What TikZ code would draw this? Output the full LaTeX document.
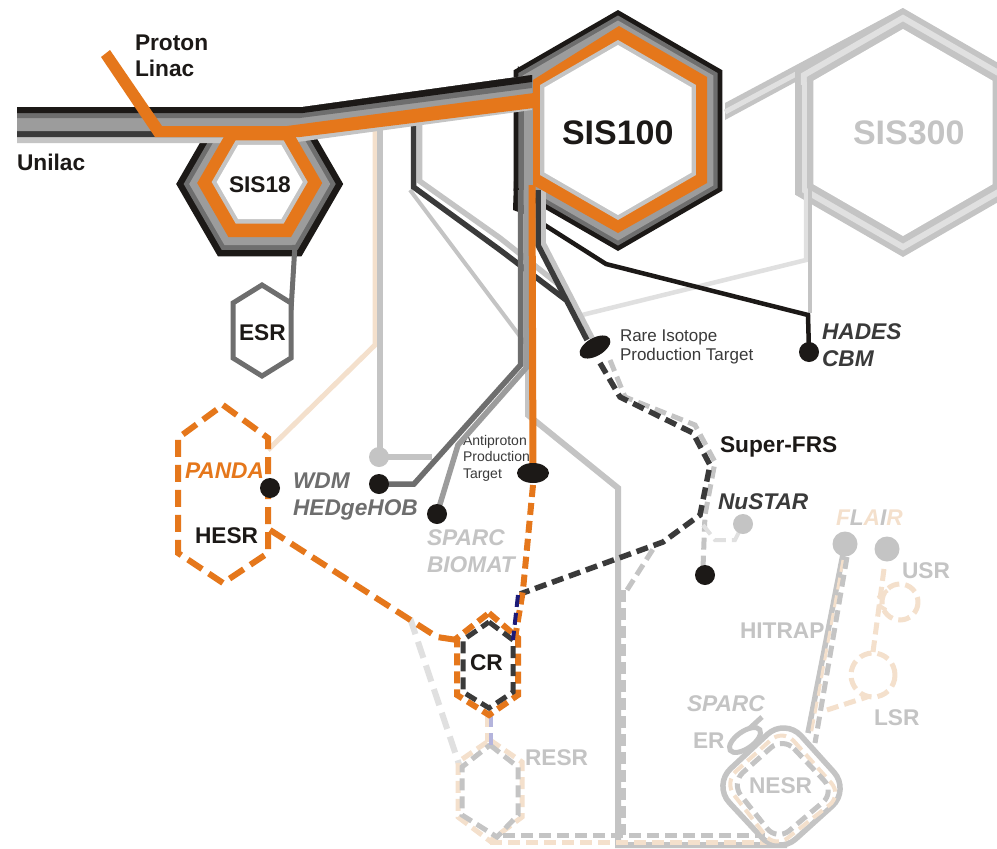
\documentclass[tikz,border=0pt]{standalone}
\usepackage{fontspec}
\setmainfont{Liberation Sans}
\usetikzlibrary{calc}
\definecolor{cblack}{HTML}{1C1917}
\definecolor{cdark}{HTML}{3A3A3A}
\definecolor{cmid}{HTML}{6E6E6E}
\definecolor{cgray}{HTML}{9C9C9C}
\definecolor{clight}{HTML}{C4C4C4}
\definecolor{cpale}{HTML}{E0E0E0}
\definecolor{corange}{HTML}{E5771B}
\definecolor{cpeach}{HTML}{F4E0CC}
\definecolor{cnavy}{HTML}{1C1A78}
\definecolor{clav}{HTML}{B4B4DC}
\definecolor{ctext}{HTML}{1C1917}
\newcommand{\phex}[3]{({#1},{#2-#3}) -- ({#1+.866*#3},{#2-.5*#3}) -- ({#1+.866*#3},{#2+.5*#3}) -- ({#1},{#2+#3}) -- ({#1-.866*#3},{#2+.5*#3}) -- ({#1-.866*#3},{#2-.5*#3}) -- cycle}
\newcommand{\fhex}[3]{({#1-#3},{#2}) -- ({#1-.5*#3},{#2-.866*#3}) -- ({#1+.5*#3},{#2-.866*#3}) -- ({#1+#3},{#2}) -- ({#1+.5*#3},{#2+.866*#3}) -- ({#1-.5*#3},{#2+.866*#3}) -- cycle}
\tikzset{
  x=1pt,y=-1pt,
  solidline/.style={line width=#1,line join=miter,miter limit=6},
  dashA/.style={line width=#1,dash pattern=on 17pt off 8pt},
  dashB/.style={line width=#1,dash pattern=on 12pt off 6pt},
  lab/.style={anchor=base west,inner sep=0pt,outer sep=0pt,font=\fontsize{22.7}{26}\selectfont\bfseries,text=ctext},
  ilab/.style={lab,font=\fontsize{22.7}{26}\selectfont\bfseries\itshape},
  small/.style={anchor=base west,inner sep=0pt,outer sep=0pt,text=cdark},
  dot/.style={circle,fill=#1,draw=none,inner sep=0pt,minimum size=20pt},
  bigdot/.style={circle,fill=#1,draw=none,inner sep=0pt,minimum size=25pt},
}
\begin{document}
\begin{tikzpicture}
\useasboundingbox (0,0) rectangle (997,849);
\clip (0,0) rectangle (997,849);
\fill[white] (0,0) rectangle (997,849);
% anchor coordinates
\coordinate (pDot) at (270,488);
\coordinate (wDot) at (379,484);
\coordinate (lDot) at (379,457);
\coordinate (sDot) at (437,514);
\coordinate (cDot) at (809,352);
\coordinate (rT) at (595,347);
\coordinate (aT) at (533,473);
\coordinate (nDot) at (743,524);
\coordinate (bDot) at (705,575);
\coordinate (fDot) at (845,544);
\coordinate (gDot) at (887,549);
% SIS300
\fill[clight] (725,103) -- (903,8) -- (903,24) -- (725,120) -- cycle;
\draw[solidline=5pt,cpale] (725,112) -- (903,17);
\fill[clight] \phex{903}{132.5}{124.5};
\fill[cpale] \phex{903}{132.5}{118};
\fill[clight] \phex{903}{132.5}{111};
\fill[white] \phex{903}{132.5}{103.5};
% pale and gray links around SIS300
\draw[solidline=4.5pt,cpale] (582,315) -- (806,260) -- (806,190);
\draw[solidline=4.5pt,clight] (810,82) -- (810,313);
\draw[solidline=4.5pt,cpale] (805,82) -- (805,190);
\draw[solidline=4.5pt,clight] (800,85) -- (800,192);
% peach and light lines from the beam
\draw[solidline=5pt,cpeach] (375,125) -- (375,345) -- (268,450);
\draw[solidline=6pt,clight] (380,125) -- (380,457) -- (432,457);
\draw[solidline=4pt,clight] (410,190) -- (525,343);
\draw[solidline=5.5pt,clight] (419.5,120) -- (419.5,181) -- (500,238) -- (558,284);
\draw[solidline=5.5pt,cdark] (413.5,120) -- (413.5,187) -- (500,250) -- (566,300);
% text under lines
\node[small,font=\fontsize{14}{16}\selectfont] (anti1) at (463,445) {Antiproton};
\node[small,font=\fontsize{14}{16}\selectfont] (anti2) at (463,461) {Production};
\node[small,font=\fontsize{14}{16}\selectfont] (anti3) at (463,478) {Target};
% SIS100 outer
\fill[cblack] (518,66) -- (513,210) -- (535,218) -- (535,90) -- cycle;
\fill[cblack] \phex{618}{130.5}{120.5};
\fill[cmid] \phex{618}{130.5}{115};
\fill[cgray] \phex{618}{130.5}{110};
\fill[cmid] (519,108) rectangle (524,205);
\fill[cgray] (524,108) rectangle (530,205);
% lines from SIS100 down
\draw[solidline=6pt,clight] (528,190) -- (528,415) -- (618,488) -- (618,845) -- (787,845);
\draw[solidline=4.5pt,cblack] (543,224) -- (606,264) -- (808,315) -- (cDot);
\draw[solidline=5.5pt,clight] (543,190) -- (543,243) -- (592,338);
\draw[solidline=5.5pt,cdark] (538,190) -- (538,245) -- (587,340);
\draw[solidline=5.5pt,cgray] (526,190) -- (526,368) -- (458,445) -- (sDot);
\draw[solidline=5.5pt,cmid] (520.5,190) -- (520.5,365) -- (414,484) -- (wDot);
% SIS18 outer
\fill[cblack] \fhex{259.7}{184}{83.5};
\fill[cmid] \fhex{259.7}{184}{76};
\fill[cgray] \fhex{259.7}{184}{70.5};
% beam bundle
\fill[clight] (17,107) -- (303,107) -- (532,75) -- (532,110) -- (290,143) -- (17,143) -- cycle;
\fill[cdark] (17,107) -- (303,107) -- (532,75) -- (532,105) -- (290,137) -- (17,137) -- cycle;
\fill[cgray] (17,107) -- (303,107) -- (532,75) -- (532,100) -- (290,131) -- (17,131) -- cycle;
\fill[cmid] (17,107) -- (303,107) -- (532,75) -- (532,88) -- (300,118) -- (17,118) -- cycle;
\fill[cblack] (17,107) -- (303,107) -- (532,75) -- (532,82) -- (303,113) -- (17,113) -- cycle;
% orange
\fill[corange] (101,57) -- (110,50) -- (162,126) -- (287,126) -- (534,93) -- (534,108) -- (300,137) -- (155,137) -- cycle;
\draw[solidline=7pt,corange] (532,185) -- (aT);
% SIS18 rings
\fill[corange] \fhex{259.7}{183}{62.5};
\fill[clight] \fhex{259.7}{182}{48};
\fill[white] \fhex{259.7}{182}{43};
% SIS100 rings
\fill[corange] (619,26) -- (707,77) -- (707,183) -- (618,233) -- (533,185) -- (533,80) -- cycle;
\fill[clight] \phex{618}{130}{90};
\fill[white] \phex{618}{130}{85};
% ESR
\draw[solidline=5pt,cmid] (295,245) -- (291,310);
\draw[solidline=5pt,cmid,fill=white] (262,285) -- (291,303) -- (291,358) -- (262,376) -- (233,358) -- (233,303) -- cycle;
% dashed: RESR and lines to it
\draw[dashA=6pt,cpale] (410,618) -- (460,767);
\draw[dashB=5pt,cpeach] (490,740) -- (522,762) -- (522,817) -- (490,841) -- (458,817) -- (458,762) -- cycle;
\draw[dashB=5pt,clight] (490,745) -- (518,767) -- (518,815) -- (497,837) -- (462,815) -- (462,767) -- cycle;
\draw[dashB=4pt,cpeach] (487,715) -- (487,742);
\draw[dashB=4pt,clav] (491,715) -- (491,745);
\draw[dashB=5pt,cpeach] (490,842) -- (775,842);
\draw[dashB=5pt,clight] (503,835) -- (765,835);
\draw[dashB=5pt,clight] (623,590) -- (623,835);
\draw[dashB=5pt,clight] (627,590) -- (655,546);
% Super-FRS
\draw[dashB=5pt,clight] (610,360) -- (625,397) -- (695,425) -- (715,462) -- (705,515) -- (703,568);
\draw[dashB=4pt,cpale] (703,525) -- (715,540) -- (735,540) -- (nDot);
\draw[dashB=5.5pt,cdark] (600,363) -- (620,397) -- (693,433) -- (710,465) -- (700,515) -- (663,542) -- (520,594);
% HESR
\draw[dashA=6pt,corange] (223,405) -- (268,438) -- (268,553) -- (223,583) -- (178,553) -- (178,438) -- cycle;
\draw[dashA=6pt,corange] (270,530) -- (437,637) -- (457,640);
% CR
\draw[dashB=6pt,corange] (489,613) -- (518,638) -- (518,695) -- (489,715) -- (457,695) -- (457,638) -- cycle;
\draw[dashB=5pt,cdark] (489,622) -- (513,640) -- (513,692) -- (489,708) -- (463,692) -- (463,640) -- cycle;
\draw[dashB=6pt,corange] (533,485) -- (523,590) -- (515,638);
\draw[dashB=4pt,cnavy] (518,595) -- (513,640);
% NESR
\draw[solidline=5.5pt,clight,rounded corners=24pt] (785,718) -- (850,790) -- (778,855) -- (713,785) -- cycle;
\draw[dashB=4pt,cpeach,rounded corners=16pt] (783,729) -- (842,795) -- (775,848) -- (724,782) -- cycle;
\draw[dashB=5pt,clight,rounded corners=16pt] (783,737) -- (835,792) -- (777,841) -- (731,783) -- cycle;
\draw[line width=5pt,clight,rotate around={35:(745,740)}] (745,740) ellipse (18 and 8.5);
\draw[solidline=5pt,clight] (750,728) -- (762,717);
% HITRAP
\draw[solidline=5.5pt,clight] (fDot) -- (808,733);
\draw[dashB=3pt,cpeach] (843,560) -- (811,735);
\draw[dashB=5pt,clight] (847,557) -- (815,743);
% LSR / USR
\draw[dashB=5pt,cpeach] (gDot) ++(-3,20) -- (873,652);
\draw[dashB=5pt,cpeach] (873,675) circle (22);
\draw[dashB=5pt,cpeach] (900,602) circle (18);
\draw[dashB=4pt,cpeach] (878,598) -- (888,590);
\draw[dashB=4pt,cpeach] (878,605) -- (886,610);
\draw[dashB=5pt,cpeach] (827,710) -- (867,697);
% dots
\node[dot=cblack] (dotP) at (pDot) {};
\node[dot=cblack] (dotW) at (wDot) {};
\node[dot=clight] (dotL) at (lDot) {};
\node[dot=cblack] (dotS) at (sDot) {};
\node[dot=cblack] (dotC) at (cDot) {};
\node[dot=clight] (dotN) at (nDot) {};
\node[dot=cblack] (dotB) at (bDot) {};
\node[bigdot=clight] (dotF) at (fDot) {};
\node[bigdot=clight] (dotG) at (gDot) {};
\fill[cblack,rotate around={30:(rT)}] (rT) ellipse (17 and 9);
\fill[cblack] (aT) ellipse (16 and 10);
% labels
\node[lab] (proton) at (135,50) {Proton};
\node[lab] (linac) at (135,76) {Linac};
\node[lab] (unilac) at (17,170) {Unilac};
\node[lab] (sis18) at (229,192) {SIS18};
\node[lab] (esr) at (239,340) {ESR};
\node[lab,font=\fontsize{34}{38}\selectfont\bfseries] (sis100) at (562,144) {SIS100};
\node[lab,font=\fontsize{34}{38}\selectfont\bfseries,text=clight] (sis300) at (853,144) {SIS300};
\node[ilab,text=cdark] (hades) at (822,339) {HADES};
\node[ilab,text=cdark] (cbm) at (822,366) {CBM};
\node[small,font=\fontsize{17}{19}\selectfont] (rare1) at (620,341) {Rare Isotope};
\node[small,font=\fontsize{17}{19}\selectfont] (rare2) at (620,360) {Production Target};
\node[ilab,text=corange] (panda) at (185,478) {PANDA};
\node[ilab,text=cmid] (wdm) at (293,488) {WDM};
\node[ilab,text=cmid] (hedge) at (293,515) {HEDgeHOB};
\node[ilab,text=clight] (sparc1) at (427,545) {SPARC};
\node[ilab,text=clight] (biomat) at (427,572) {BIOMAT};
\node[lab] (hesr) at (195,543) {HESR};
\node[lab] (cr) at (470,670) {CR};
\node[lab,text=clight] (resr) at (525,765) {RESR};
\node[lab] (sfrs) at (720,452) {Super-FRS};
\node[ilab,text=cdark] (nustar) at (718,509) {NuSTAR};
\node[ilab] (flair) at (836,525) {\textcolor{cpeach}{F}\textcolor{clight}{L}\textcolor{cpeach}{A}\textcolor{clight}{I}\textcolor{cpeach}{R}};
\node[lab,text=clight] (usr) at (902,578) {USR};
\node[lab,text=clight] (hitrap) at (740,638) {HITRAP};
\node[lab,text=clight] (lsr) at (874,725) {LSR};
\node[ilab,text=clight] (sparc2) at (687,711) {SPARC};
\node[lab,text=clight] (er) at (693,748) {ER};
\node[lab,text=clight] (nesr) at (749,793) {NESR};
\end{tikzpicture}
\end{document}
